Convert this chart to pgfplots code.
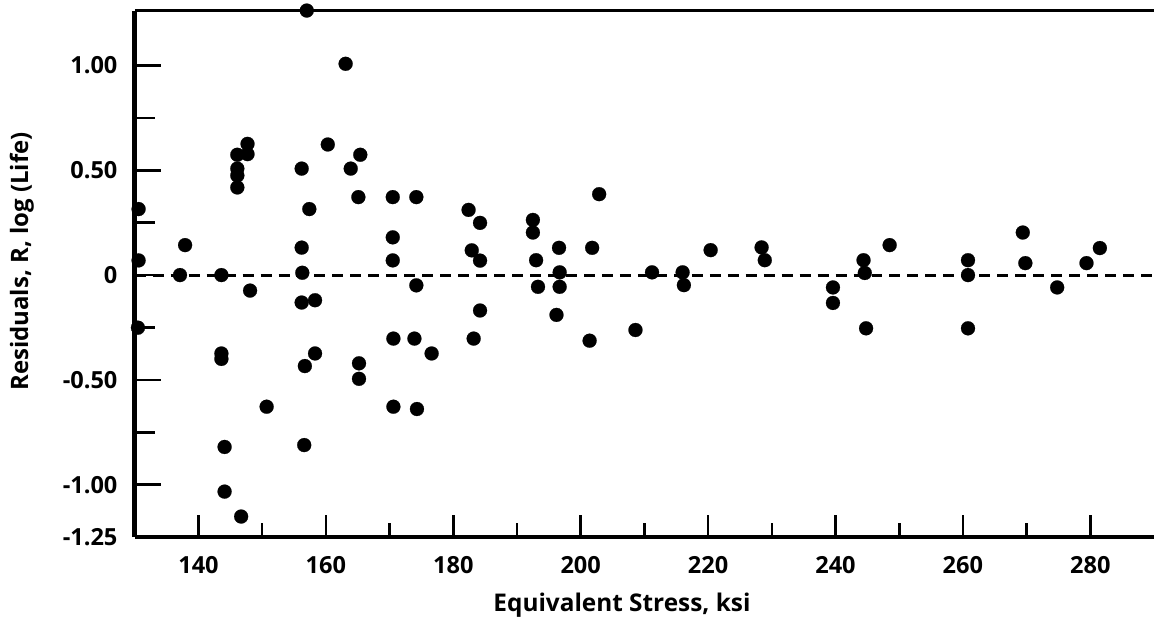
\documentclass[border=0pt]{standalone}
\usepackage{pgfplots}
\usepackage{pgfplotstable}
\pgfplotsset{compat=1.18}
\usepackage{fontspec}
\setmainfont{Open Sans}

\pgfplotstableread{
x y
157.0 1.262
147.7 0.626
146.1 0.574
147.7 0.577
146.1 0.508
146.1 0.475
146.1 0.418
160.3 0.623
156.2 0.508
130.6 0.315
157.4 0.315
137.9 0.143
130.6 0.070
156.2 0.131
137.1 0.000
143.6 0.000
156.3 0.011
148.1 -0.074
156.2 -0.131
158.3 -0.120
130.5 -0.251
143.6 -0.374
143.6 -0.400
158.3 -0.374
156.7 -0.434
150.7 -0.628
144.1 -0.820
156.6 -0.811
144.1 -1.033
146.7 -1.152
163.1 1.008
165.4 0.574
163.9 0.508
165.1 0.372
170.5 0.372
174.2 0.372
182.4 0.311
184.2 0.249
170.5 0.180
182.9 0.118
170.5 0.070
184.2 0.069
174.2 -0.049
184.2 -0.169
170.6 -0.303
173.9 -0.303
183.2 -0.303
176.6 -0.374
165.2 -0.421
165.2 -0.495
170.6 -0.628
174.3 -0.639
192.5 0.263
192.5 0.203
193.0 0.071
193.3 -0.056
196.6 0.130
196.7 0.013
196.7 -0.056
196.2 -0.190
202.9 0.386
201.8 0.130
201.4 -0.313
208.6 -0.262
211.2 0.013
216.0 0.013
216.2 -0.048
220.4 0.119
228.4 0.132
228.9 0.071
239.6 -0.059
239.6 -0.133
244.4 0.071
244.6 0.010
244.8 -0.254
248.5 0.143
260.8 0.071
260.8 0.000
260.8 -0.254
269.4 0.203
269.8 0.057
274.8 -0.059
279.4 0.057
281.5 0.129
}\residuals

\begin{document}
\begin{tikzpicture}
\begin{axis}[
  name=ax,
  width=510.5pt, height=263.5pt, scale only axis,
  xmin=130, xmax=290, ymin=-1.25, ymax=1.26,
  clip=false,
  axis x line*=bottom, axis y line*=left,
  x axis line style={line width=2pt},
  y axis line style={line width=2.6pt},
  tick align=inside,
  tick style={black},
  xtick={140,160,...,280},
  xticklabels={140,160,180,200,220,240,260,280},
  minor xtick={150,170,...,270},
  ytick={-1.25,-1,-0.5,0,0.5,1},
  yticklabels={-1.25,-1.00,-0.50,0,0.50,1.00},
  minor ytick={-0.75,-0.25,0.25,0.75},
  xtick style={black, line width=1.3pt, /pgfplots/major tick length=11pt, /pgfplots/minor tick length=7pt},
  ytick style={black, line width=1.3pt, /pgfplots/major tick length=13pt, /pgfplots/minor tick length=10pt},
  xticklabel style={font=\bfseries\fontsize{11.8}{14}\selectfont, anchor=center, inner sep=0pt, yshift=-14pt},
  yticklabel style={font=\bfseries\fontsize{11.8}{14}\selectfont, anchor=east, inner sep=0pt, xshift=-8.5pt},
  xlabel={Equivalent Stress, ksi},
  ylabel={Residuals, R, log (Life)},
  every axis x label/.style={at={([yshift=-34pt]rel axis cs:0.478,0)}, anchor=center, font=\bfseries\fontsize{12.2}{14}\selectfont},
  every axis y label/.style={at={([xshift=-56.5pt]rel axis cs:0,0.524)}, rotate=90, anchor=center, font=\bfseries\fontsize{12}{14}\selectfont},
]
\addplot[line width=1.5pt, dash pattern=on 5.5pt off 3.5pt, forget plot] coordinates {(130,0) (290,0)};
\addplot[only marks, mark=*, mark size=3.5pt, mark options={fill=black, draw=black, line width=0.1pt}] table[x=x, y=y] {\residuals};
\draw[line width=1.5pt] (rel axis cs:0,1) -- (rel axis cs:1,1);
\end{axis}
\path ([xshift=-67.5pt,yshift=-45pt]ax.south west) rectangle ([yshift=5.5pt]ax.north east);
\end{tikzpicture}
\end{document}
